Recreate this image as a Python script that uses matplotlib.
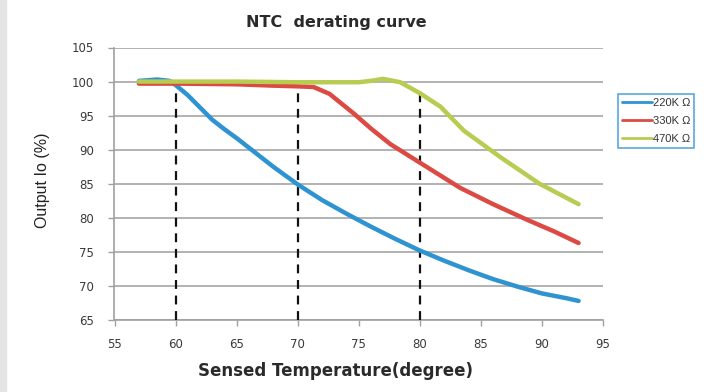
import matplotlib
matplotlib.use("Agg")
import matplotlib.pyplot as plt
from matplotlib.patches import Rectangle

plt.rcParams['font.family'] = ['Liberation Sans', 'DejaVu Sans']

# 讀圖估計的數據
temp_220k = [57, 58.5, 59.5, 60, 61, 62, 63, 64, 65, 66, 67, 68, 69, 70,
             72, 74, 76, 78, 80, 82, 84, 86, 88, 90, 92, 93]
out_220k = [100.1, 100.3, 100.1, 99.5, 98.0, 96.2, 94.4, 93.0, 91.7, 90.3, 88.9, 87.5, 86.2, 84.9,
            82.6, 80.6, 78.7, 76.9, 75.2, 73.7, 72.3, 71.0, 69.9, 68.9, 68.2, 67.8]

temp_330k = [57, 60, 65, 68, 70, 71.3, 72.6, 74.6, 76, 77.6, 80, 83.3, 86, 88.8, 91, 93]
out_330k = [99.7, 99.7, 99.6, 99.4, 99.3, 99.2, 98.2, 95.3, 93.1, 90.8, 88.1, 84.4, 82.0, 79.7, 78.0, 76.3]

temp_470k = [57, 60, 65, 70, 75, 76, 77, 78.4, 80, 81.7, 83.6, 86.6, 89.8, 93]
out_470k = [100.0, 100.0, 100.0, 99.9, 99.9, 100.1, 100.4, 99.9, 98.3, 96.3, 92.8, 88.9, 85.0, 82.0]

labels = ['220K \u03a9', '330K \u03a9', '470K \u03a9']
colors = ['#2f93d1', '#db4a43', '#b8cc52']

# 虛線位置與高度
mark_x = [60, 70, 80]
mark_top = [99.5, 99.3, 98.2]

fig = plt.figure(figsize=(7.04, 3.92), dpi=100)
fig.patches.append(Rectangle((0, 0), 6 / 704, 1, transform=fig.transFigure,
                             color='#e4e4e4', zorder=0))
ax = fig.add_axes([114.5 / 704, 72 / 392, 488.5 / 704, 272.5 / 392])

ax.set_xlim(55, 95)
ax.set_ylim(65, 105)
ax.set_xticks(range(55, 96, 5))
ax.set_yticks(range(65, 106, 5))
ax.yaxis.grid(True, color='#a6a6a6', linewidth=1.2)
ax.set_axisbelow(True)

for s in ['top', 'right']:
    ax.spines[s].set_visible(False)
for s in ['left', 'bottom']:
    ax.spines[s].set_color('#a0a0a0')
    ax.spines[s].set_linewidth(1.2)
ax.tick_params(axis='both', colors='#a0a0a0', labelcolor='#3a3a3a',
               labelsize=8.5, length=4, width=1)
ax.tick_params(axis='y', pad=11)
ax.tick_params(axis='x', pad=9)
for lbl in ax.get_xticklabels() + ax.get_yticklabels():
    lbl.set_fontfamily('DejaVu Sans')

ax.vlines(mark_x, 65, mark_top, colors='#111111', linestyles=(0, (4, 3)),
          linewidth=1.6, zorder=3)

for t, v, lab, c in zip([temp_220k, temp_330k, temp_470k],
                        [out_220k, out_330k, out_470k], labels, colors):
    ax.plot(t, v, color=c, linewidth=3.2, label=lab, zorder=4,
            solid_capstyle='round', solid_joinstyle='round')

leg = ax.legend(loc='upper left', bbox_to_anchor=(1.03, 0.83), fontsize=8,
                frameon=True, fancybox=False, handlelength=2.7, handletextpad=0.15,
                borderpad=0.35, labelspacing=0.75, borderaxespad=0)
leg.get_frame().set_edgecolor('#2f93d1')
leg.get_frame().set_linewidth(1.2)
for line in leg.get_lines():
    line.set_linewidth(2)
for txt in leg.get_texts():
    txt.set_color('#333333')

fig.text(336 / 704, 1 - 22 / 392, 'NTC  derating curve', ha='center', va='center',
         fontsize=11.5, fontweight='bold', color='#2a2a2a', family='DejaVu Sans')
fig.text(336 / 704, 1 - 371 / 392, 'Sensed Temperature(degree)', ha='center', va='center',
         fontsize=12, fontweight='bold', color='#2a2a2a', family='DejaVu Sans')
fig.text(42 / 704, 1 - 180 / 392, 'Output Io (%)', ha='center', va='center',
         rotation=90, fontsize=11.5, color='#222222')

fig.savefig('out.png', dpi=100)
